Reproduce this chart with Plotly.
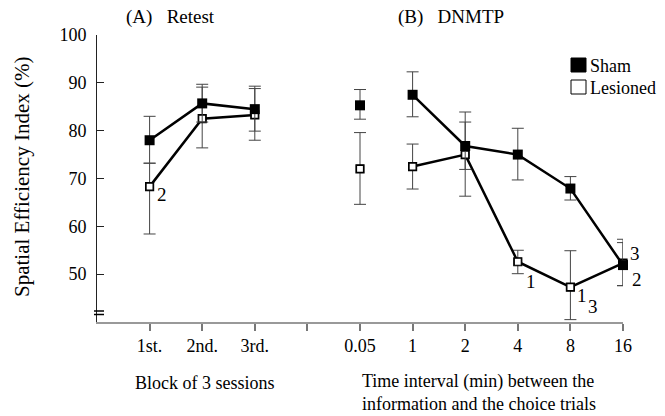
import plotly.graph_objects as go

# ---- data ----
tick_labels = ["1st.", "2nd.", "3rd.", "", "0.05", "1", "2", "4", "8", "16"]
retest_blocks = ["1st.", "2nd.", "3rd."]
delays = ["0.05", "1", "2", "4", "8", "16"]

sham_retest = [78.0, 85.7, 84.5]
sham_retest_up = [5.0, 4.0, 4.8]
sham_retest_dn = [4.8, 3.9, 4.6]

lesion_retest = [68.3, 82.5, 83.3]
lesion_retest_up = [4.9, 6.6, 5.5]
lesion_retest_dn = [9.9, 6.1, 5.3]

sham_dnmtp = [85.3, 87.5, 76.8, 75.0, 67.9, 51.9]
sham_dnmtp_up = [3.3, 4.8, 5.0, 5.5, 2.5, 5.4]
sham_dnmtp_dn = [2.9, 4.6, 4.9, 5.3, 2.4, 4.3]

lesion_dnmtp = [72.0, 72.5, 75.0, 52.6, 47.3, 52.3]
lesion_dnmtp_up = [7.6, 4.7, 8.9, 2.4, 7.6, 4.3]
lesion_dnmtp_dn = [7.4, 4.7, 8.7, 2.5, 6.8, 4.7]

# numeric positions from tick label order
pos = {lab: i + 1 for i, lab in enumerate(tick_labels) if lab}
x_retest = [pos[b] for b in retest_blocks]
x_delay = [pos[d] for d in delays]

FONT = "Liberation Serif"
ERRC = "#444444"
FS = 18

fig = go.Figure()

def add(xs, ys, up, dn, filled, mode):
    fig.add_trace(go.Scatter(
        x=xs, y=ys, mode=mode, showlegend=False, cliponaxis=False,
        line=dict(color="black", width=2.5),
        marker=dict(symbol="square" if filled else "square-open",
                    size=10 if filled else 8,
                    color="black",
                    line=dict(color="black", width=1.2) if not filled else dict(width=0)),
        error_y=dict(type="data", array=up, arrayminus=dn, symmetric=False,
                     color=ERRC, thickness=1, width=6),
    ))
    if not filled:
        fig.add_trace(go.Scatter(
            x=xs, y=ys, mode="markers", showlegend=False, cliponaxis=False,
            marker=dict(symbol="square", size=7, color="white",
                        line=dict(color="black", width=1.2)),
            hoverinfo="skip"))

add(x_retest, lesion_retest, lesion_retest_up, lesion_retest_dn, False, "lines+markers")
add(x_delay[:1], lesion_dnmtp[:1], lesion_dnmtp_up[:1], lesion_dnmtp_dn[:1], False, "markers")
add(x_delay[1:], lesion_dnmtp[1:], lesion_dnmtp_up[1:], lesion_dnmtp_dn[1:], False, "lines+markers")
add(x_retest, sham_retest, sham_retest_up, sham_retest_dn, True, "lines+markers")
add(x_delay[:1], sham_dnmtp[:1], sham_dnmtp_up[:1], sham_dnmtp_dn[:1], True, "markers")
add(x_delay[1:], sham_dnmtp[1:], sham_dnmtp_up[1:], sham_dnmtp_dn[1:], True, "lines+markers")

L, R, T, B = 97, 42, 35, 94
W, H = 665, 416
pw, ph = W - L - R, H - T - B

def px(x):
    return (x - L) / pw

def py(y):
    return (H - B - y) / ph

annos = []
def txt(text, x, y, size=FS, xanchor="center", **kw):
    annos.append(dict(text=text, x=x, y=y, xref="paper", yref="paper",
                      xanchor=xanchor, yanchor="middle",
                      showarrow=False, font=dict(family=FONT, size=size, color="black"), **kw))

txt("(A)\u00a0\u00a0\u00a0Retest", px(170), py(17), size=19)
txt("(B)\u00a0\u00a0\u00a0DNMTP", px(451), py(17), size=19)
txt("Block of 3 sessions", px(204.5), py(383))
txt("Time interval (min) between the<br>information and the choice trials",
    px(360), py(392.5), xanchor="left", align="left")
txt("Spatial Efficiency Index (%)", px(22), py(177), size=21, textangle=-90)
txt("Sham", px(588), py(66), xanchor="left")
txt("Lesioned", px(588), py(88), xanchor="left")

def nlab(text, xv, yv, dx, dy):
    annos.append(dict(text=text, x=xv, y=yv, xref="x", yref="y", showarrow=False,
                      xanchor="center", yanchor="middle",
                      xshift=dx, yshift=dy, font=dict(family=FONT, size=19, color="black")))

nlab("2", x_retest[0], lesion_retest[0], 12, -8)
nlab("1", x_delay[3], lesion_dnmtp[3], 13, -20)
nlab("1", x_delay[4], lesion_dnmtp[4], 12, -8)
nlab("3", x_delay[4], lesion_dnmtp[4], 23, -19)
nlab("3", x_delay[5], sham_dnmtp[5], 12, 12)
nlab("2", x_delay[5], sham_dnmtp[5], 14, -14)

shapes = [
    dict(type="rect", xref="paper", yref="paper", x0=px(571), x1=px(586), y0=py(72), y1=py(58),
         fillcolor="black", line=dict(color="black", width=1)),
    dict(type="rect", xref="paper", yref="paper", x0=px(571), x1=px(586), y0=py(94), y1=py(80),
         fillcolor="white", line=dict(color="black", width=1)),
    dict(type="line", xref="paper", yref="paper", x0=px(94), x1=px(104), y0=py(311), y1=py(311),
         line=dict(color="black", width=1.5)),
    dict(type="line", xref="paper", yref="paper", x0=px(94), x1=px(104), y0=py(314.5), y1=py(314.5),
         line=dict(color="black", width=1.5)),
]

fig.update_layout(
    width=W, height=H, margin=dict(l=L, r=R, t=T, b=B),
    plot_bgcolor="white", paper_bgcolor="white",
    font=dict(family=FONT, size=FS, color="black"),
    annotations=annos, shapes=shapes, showlegend=False,
    xaxis=dict(range=[0, 10], tickvals=list(range(1, 11)), ticktext=tick_labels,
               showgrid=False, zeroline=False, showline=True, linecolor="#999999", linewidth=1.5,
               ticks="outside", ticklen=7, tickcolor="#777777", tickwidth=1.5,
               ticklabelstandoff=0,
               tickfont=dict(family=FONT, size=FS, color="black")),
    yaxis=dict(range=[40, 100], tickvals=[50, 60, 70, 80, 90, 100],
               showgrid=False, zeroline=False, showline=True, linecolor="#222222", linewidth=1,
               ticks="inside", ticklen=7, tickcolor="#222222", tickwidth=1,
               ticklabelstandoff=6,
               tickfont=dict(family=FONT, size=FS, color="black")),
)

fig.write_html("out.html")
